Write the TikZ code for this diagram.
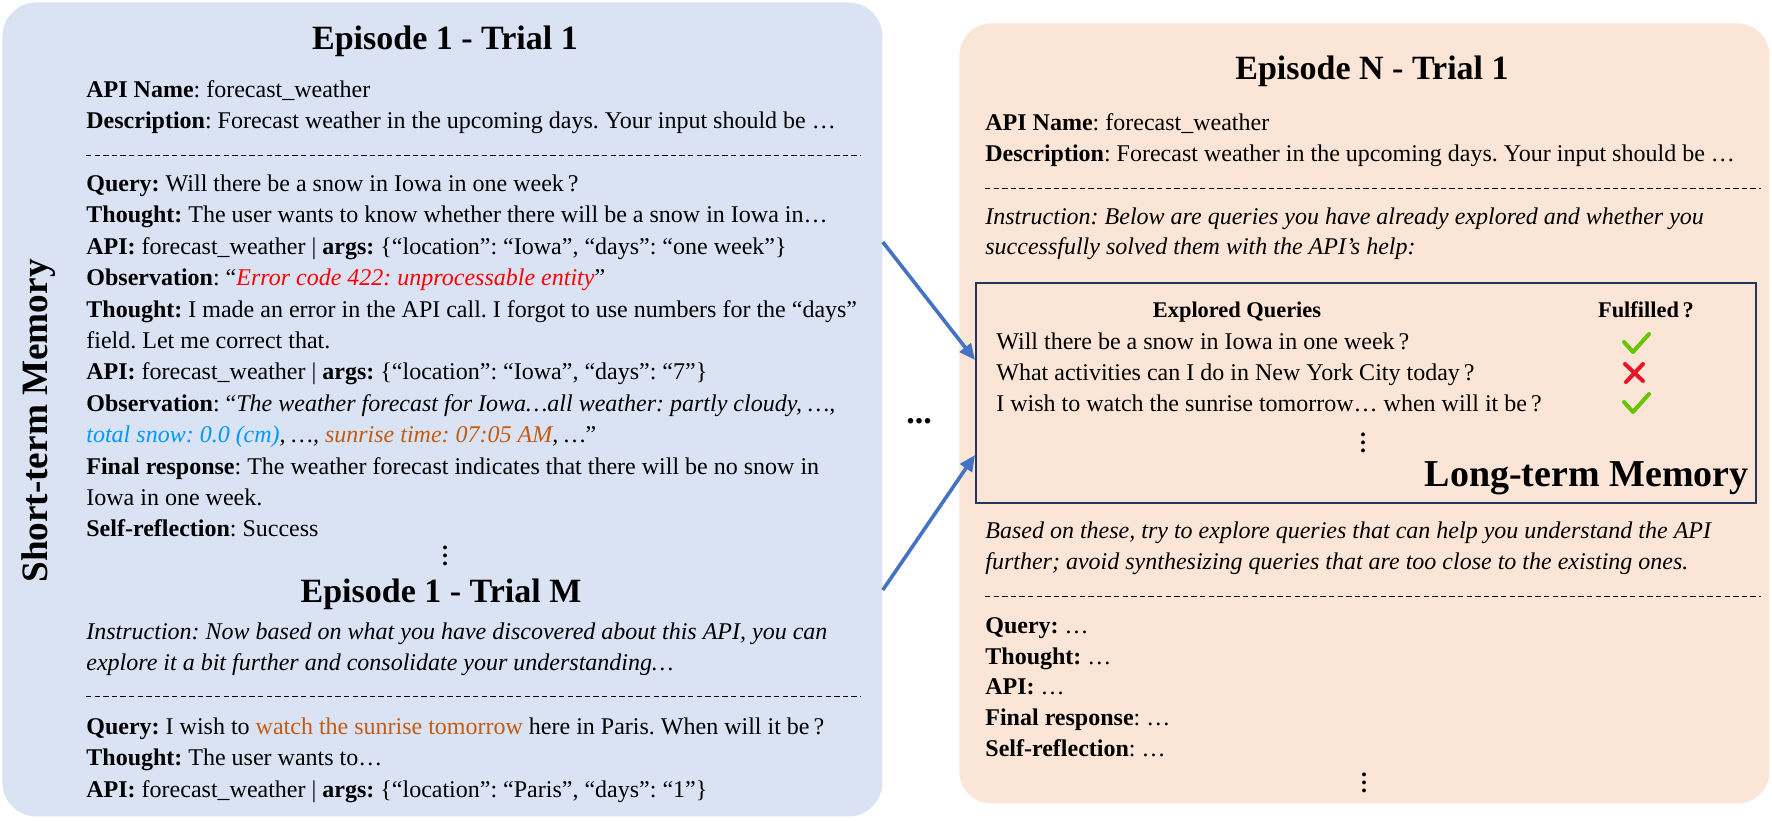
\documentclass[tikz,border=0pt]{standalone}
\usepackage{fontspec}
\setmainfont{Liberation Serif}
\frenchspacing
\usetikzlibrary{arrows.meta}
\definecolor{stmblue}{HTML}{DAE3F3}
\definecolor{ltmpeach}{HTML}{FBE5D6}
\definecolor{ltmframe}{HTML}{24365A}
\definecolor{arrowblue}{HTML}{4472C4}
\definecolor{errred}{HTML}{FF0000}
\definecolor{snowblue}{HTML}{0099FF}
\definecolor{sunorange}{HTML}{C55A11}
\definecolor{okgreen}{HTML}{66C400}
\definecolor{failred}{HTML}{E81428}
\newcommand{\tightvdots}{\vbox{\baselineskip=4pt\lineskiplimit=0pt\hbox{\bfseries .}\hbox{\bfseries .}\hbox{\bfseries .}}}
\tikzset{
  txt/.style={anchor=base west, inner sep=0pt, font=\fontsize{12}{15.6}\selectfont},
  eptitle/.style={anchor=base, inner sep=0pt, font=\fontsize{17}{20}\selectfont\bfseries},
  moredots/.style={inner sep=0pt, font=\fontsize{12}{14}\selectfont},
  sepline/.style={line width=0.5pt, dash pattern=on 2.7pt off 1.6pt},
  memarrow/.style={arrowblue, line width=1.8pt, -{Triangle[length=8pt,width=7pt]}},
  okmark/.style={okgreen, line width=2pt, line cap=round, line join=round},
  failmark/.style={failred, line width=2pt, line cap=round},
}

\begin{document}
\begin{tikzpicture}[x=0.5pt, y=-0.5pt]
        \useasboundingbox (0,0) rectangle (1772,820);
        % Memory panels
        \node[fill=stmblue, rounded corners=17pt, minimum width=440pt, minimum height=407pt,
          anchor=north west, inner sep=0pt] (stm) at (2,2) {};
        \node[fill=ltmpeach, rounded corners=16pt, minimum width=405pt, minimum height=390pt,
          anchor=north west, inner sep=0pt] (epn) at (959,23) {};
        \node[draw=ltmframe, line width=1pt, minimum width=390pt, minimum height=110pt,
          anchor=north west, inner sep=0pt] (ltm) at (975,282) {};
        \node[rotate=90, inner sep=0pt, font=\fontsize{18.6}{22}\selectfont\bfseries] (stmlabel) at (39,421) {Short-term Memory};
        % Episode 1 - Trial 1
        \node[eptitle] (t11) at (445,49) {Episode 1 - Trial 1};
        \node[txt] (l1) at (86,97) {\textbf{API Name}: forecast\_weather};
        \node[txt] (l2) at (86,128) {\textbf{Description}: Forecast weather in the upcoming days. Your input should be …};
        \draw[sepline] (86,155) -- (861,155);
        \node[txt] (l3) at (86,191) {\textbf{Query:} Will there be a snow in Iowa in one week\,?};
        \node[txt] (l4) at (86,222) {\textbf{Thought:} The user wants to know whether there will be a snow in Iowa in…};
        \node[txt] (l5) at (86,254) {\textbf{API:} forecast\_weather | \textbf{args:} \{“location”: “Iowa”, “days”: “one week”\}};
        \node[txt] (l6) at (86,285) {\textbf{Observation}: “\textcolor{errred}{\itshape Error code 422: unprocessable entity}”};
        \node[txt] (l7) at (86,317) {\textbf{Thought:} I made an error in the API call. I forgot to use numbers for the “days”};
        \node[txt] (l8) at (86,348) {field. Let me correct that.};
        \node[txt] (l9) at (86,379) {\textbf{API:} forecast\_weather | \textbf{args:} \{“location”: “Iowa”, “days”: “7”\}};
        \node[txt] (l10) at (86,411) {\textbf{Observation}: “\textit{The weather forecast for Iowa…all weather: partly cloudy, …,}};
        \node[txt] (l11) at (86,442) {\textit{\textcolor{snowblue}{total snow: 0.0 (cm)}, …, \textcolor{sunorange}{sunrise time: 07:05 AM}, …}”};
        \node[txt] (l12) at (86,474) {\textbf{Final response}: The weather forecast indicates that there will be no snow in};
        \node[txt] (l13) at (86,505) {Iowa in one week.};
        \node[txt] (l14) at (86,536) {\textbf{Self-reflection}: Success};
        \node[moredots] (dots1) at (445,556) {\tightvdots};
        % Episode 1 - Trial M
        \node[eptitle] (t1m) at (441,602) {Episode 1 - Trial M};
        \node[txt] (m1) at (86,639) {\textit{Instruction: Now based on what you have discovered about this API, you can}};
        \node[txt] (m2) at (86,670) {\textit{explore it a bit further and consolidate your understanding…}};
        \draw[sepline] (86,696) -- (861,696);
        \node[txt] (m3) at (86,734) {\textbf{Query:} I wish to \textcolor{sunorange}{watch the sunrise tomorrow} here in Paris. When will it be\,?};
        \node[txt] (m4) at (86,765) {\textbf{Thought:} The user wants to…};
        \node[txt] (m5) at (86,797) {\textbf{API:} forecast\_weather | \textbf{args:} \{“location”: “Paris”, “days”: “1”\}};
        % Between the panels
        \node[anchor=base, inner sep=0pt, font=\fontsize{17}{20}\selectfont\bfseries] (gap) at (919,423) {...};
        \draw[memarrow] (stm.east |- 0,242) -- (ltm.west |- 0,360);
        \draw[memarrow] (stm.east |- 0,590) -- (ltm.west |- 0,455);
        % Episode N - Trial 1
        \node[eptitle] (tn1) at (1372,79) {Episode N - Trial 1};
        \node[txt] (r1) at (985,130) {\textbf{API Name}: forecast\_weather};
        \node[txt] (r2) at (985,161) {\textbf{Description}: Forecast weather in the upcoming days. Your input should be …};
        \draw[sepline] (985,188) -- (1761,188);
        \node[txt] (r3) at (985,224) {\textit{Instruction: Below are queries you have already explored and whether you}};
        \node[txt] (r4) at (985,254) {\textit{successfully solved them with the API’s help:}};
        % Long-term memory table
        \node[anchor=base, inner sep=0pt, font=\fontsize{11.2}{13}\selectfont\bfseries] (hq) at (1237,317) {Explored Queries};
        \node[anchor=base, inner sep=0pt, font=\fontsize{11.2}{13}\selectfont\bfseries] (hf) at (1646,317) {Fulfilled\,?};
        \node[txt] (q1) at (996,349) {Will there be a snow in Iowa in one week\,?};
        \node[txt] (q2) at (996,380) {What activities can I do in New York City today\,?};
        \node[txt] (q3) at (996,411) {I wish to watch the sunrise tomorrow… when will it be\,?};
        \draw[okmark] (1624,342) -- (1633,352) -- (1649,334);
        \draw[failmark] (1625,364) -- (1643,381) (1643,364) -- (1626,382);
        \draw[okmark] (1624,402) -- (1633,412) -- (1649,394);
        \node[moredots] (dots2) at (1363,443) {\tightvdots};
        \node[anchor=base east, inner sep=0pt, font=\fontsize{19}{22}\selectfont\bfseries] (ltmlabel) at (1749,486) {Long-term Memory};
        % Next exploration
        \node[txt] (r5) at (985,538) {\textit{Based on these, try to explore queries that can help you understand the API}};
        \node[txt] (r6) at (985,569) {\textit{further; avoid synthesizing queries that are too close to the existing ones.}};
        \draw[sepline] (985,596) -- (1761,596);
        \node[txt] (r7) at (985,633) {\textbf{Query:} …};
        \node[txt] (r8) at (985,664) {\textbf{Thought:} …};
        \node[txt] (r9) at (985,694) {\textbf{API:} …};
        \node[txt] (r10) at (985,725) {\textbf{Final response}: …};
        \node[txt] (r11) at (985,756) {\textbf{Self-reflection}: …};
        \node[moredots] (dots3) at (1364,783) {\tightvdots};
      \end{tikzpicture}
\end{document}
